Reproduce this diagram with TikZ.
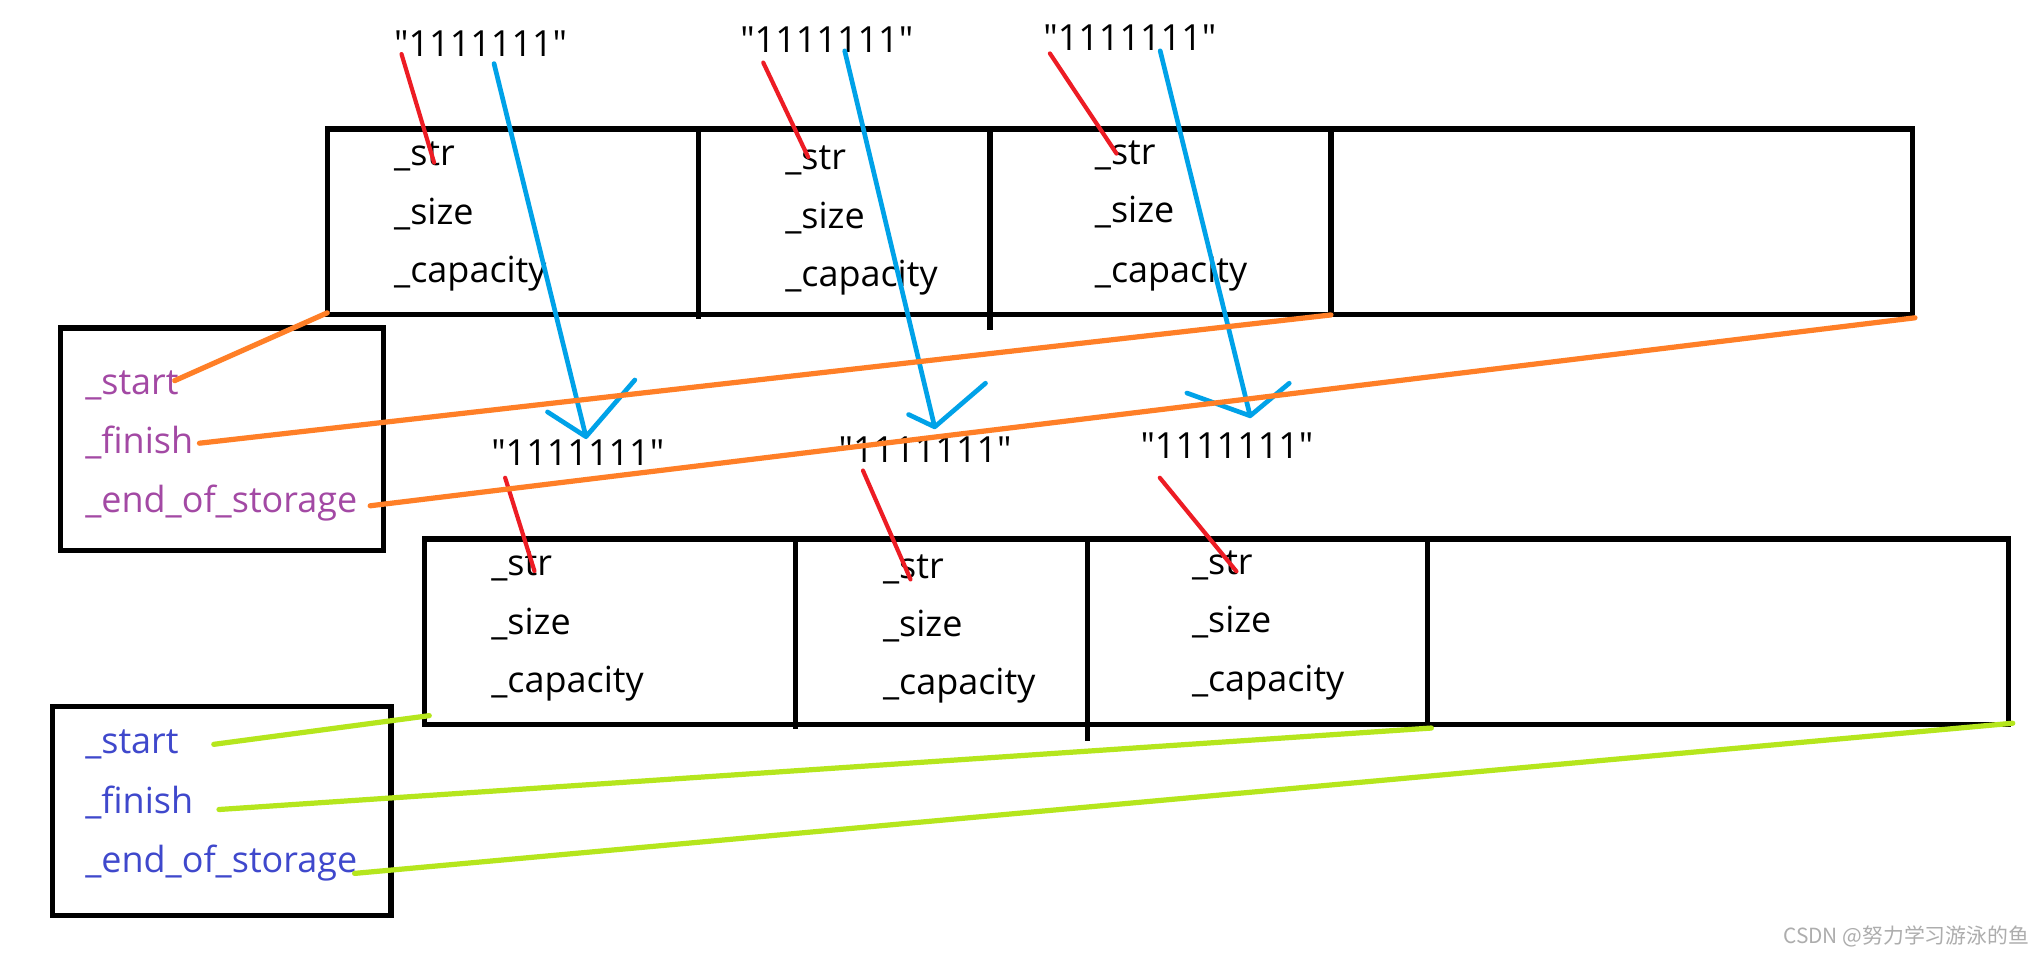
\documentclass[tikz,border=0pt]{standalone}
\usepackage{fontspec}
\setmainfont{Open Sans}
\newfontfamily\cjkfont{Noto Sans CJK SC}
\definecolor{pRed}{HTML}{ED1C24}
\definecolor{pOrange}{HTML}{FF7F27}
\definecolor{pLime}{HTML}{B5E61D}
\definecolor{pBlue}{HTML}{00A2E8}
\definecolor{pPurple}{HTML}{A349A4}
\definecolor{pIndigo}{HTML}{3F48CC}
\newcommand{\qstr}{\textquotedbl1111111\textquotedbl}
\tikzset{
  txt/.style={anchor=base west, inner sep=0pt, font=\fontsize{13.8}{16}\selectfont},
  frame/.style={draw=black, line width=2pt},
  redline/.style={draw=pRed, line width=1.6pt, line cap=round},
  blueline/.style={draw=pBlue, line width=1.8pt, line cap=round, line join=round},
  orangeline/.style={draw=pOrange, line width=2pt, line cap=round},
  limeline/.style={draw=pLime, line width=2pt, line cap=round},
}
\begin{document}
\begin{tikzpicture}[x=0.5pt, y=-0.5pt]
\useasboundingbox[fill=white] (0,0) rectangle (1568,732);

% ---------- top array ----------
\coordinate (TA-nw) at (251,99);
\coordinate (TA-se) at (1467,241);
\draw[frame] (TA-nw) rectangle (TA-se);
\draw[frame] (535.6,99) -- (535.6,245);
\draw[frame] (759.4,99) -- (759.4,253);
\draw[frame] (1021,99) -- (1021,241);

% ---------- bottom array ----------
\coordinate (BA-nw) at (325.5,413.5);
\coordinate (BA-se) at (1541,555.5);
\draw[frame] (BA-nw) rectangle (BA-se);
\draw[frame] (610,413.5) -- (610,559);
\draw[frame] (834,413.5) -- (834,568.5);
\draw[frame] (1094.8,413.5) -- (1094.8,555.5);

% ---------- left boxes ----------
\draw[frame] (46.5,251.7) rectangle (294,422.4);
\draw[frame] (40,542) rectangle (300,702);

% ---------- top cells text ----------
\node[txt] (t1s) at (302,127) {\_str};
\node[txt] (t1z) at (302,172) {\_size};
\node[txt] (t1c) at (302,217) {\_capacity};
\node[txt] (t2s) at (602,130) {\_str};
\node[txt] (t2z) at (602,175) {\_size};
\node[txt] (t2c) at (602,220) {\_capacity};
\node[txt] (t3s) at (839.5,126.5) {\_str};
\node[txt] (t3z) at (839.5,171) {\_size};
\node[txt] (t3c) at (839.5,216.5) {\_capacity};

% ---------- bottom cells text ----------
\node[txt] (b1s) at (376.5,441.5) {\_str};
\node[txt] (b1z) at (376.5,486.5) {\_size};
\node[txt] (b1c) at (376.5,531.5) {\_capacity};
\node[txt] (b2s) at (677,443.5) {\_str};
\node[txt] (b2z) at (677,488.5) {\_size};
\node[txt] (b2c) at (677,533) {\_capacity};
\node[txt] (b3s) at (914,441) {\_str};
\node[txt] (b3z) at (914,485.5) {\_size};
\node[txt] (b3c) at (914,530.5) {\_capacity};

% ---------- string labels ----------
\node[txt] (L1) at (302,43) {\qstr};
\node[txt] (L2) at (567.5,40) {\qstr};
\node[txt] (L3) at (800,38.5) {\qstr};
\node[txt] (M1) at (376.5,357) {\qstr};
\node[txt] (M2) at (643,354.5) {\qstr};
\node[txt] (M3) at (874.5,351.5) {\qstr};

% ---------- left box texts ----------
\node[txt, text=pPurple] (ps) at (65,303) {\_start};
\node[txt, text=pPurple] (pf) at (65,348) {\_finish};
\node[txt, text=pPurple] (pe) at (65,393) {\_end\_of\_storage};
\node[txt, text=pIndigo] (qs) at (65,578) {\_start};
\node[txt, text=pIndigo] (qf) at (65,624) {\_finish};
\node[txt, text=pIndigo] (qe) at (65,669) {\_end\_of\_storage};

% ---------- red pointers ----------
\coordinate (r1a) at (308,41.5);   \coordinate (r1b) at (333,124.7);
\coordinate (r2a) at (585.5,48);   \coordinate (r2b) at (620,120.6);
\coordinate (r3a) at (805.4,41);   \coordinate (r3b) at (856.5,117.8);
\coordinate (r4a) at (387.5,366.5); \coordinate (r4b) at (410,438);
\coordinate (r5a) at (662,361);    \coordinate (r5b) at (698.5,444.5);
\coordinate (r6a) at (889.7,366.5); \coordinate (r6b) at (948.5,438.3);
\draw[redline] (r1a) -- (r1b);
\draw[redline] (r2a) -- (r2b);
\draw[redline] (r3a) -- (r3b);
\draw[redline] (r4a) -- (r4b);
\draw[redline] (r5a) -- (r5b);
\draw[redline] (r6a) -- (r6b);

% ---------- blue arrows ----------
\coordinate (u1a) at (379,48.8);  \coordinate (u1t) at (449.5,335);
\coordinate (u1l) at (420,316);   \coordinate (u1r) at (487,291.5);
\coordinate (u2a) at (648,39);    \coordinate (u2t) at (717,327.5);
\coordinate (u2l) at (697,318);   \coordinate (u2r) at (756,294);
\coordinate (u3a) at (890,39);    \coordinate (u3t) at (959,319);
\coordinate (u3l) at (910.5,301.5); \coordinate (u3r) at (989,294);
\draw[blueline] (u1a) -- (u1t) (u1l) -- (u1t) -- (u1r);
\draw[blueline] (u2a) -- (u2t) (u2l) -- (u2t) -- (u2r);
\draw[blueline] (u3a) -- (u3t) (u3l) -- (u3t) -- (u3r);

% ---------- orange pointers ----------
\coordinate (o1a) at (134,292);  \coordinate (o1b) at (251,240);
\coordinate (o2a) at (153,340);  \coordinate (o2b) at (1021,241.6);
\coordinate (o3a) at (284,388);  \coordinate (o3b) at (1469,243.8);
\draw[orangeline] (o1a) -- (o1b);
\draw[orangeline] (o2a) -- (o2b);
\draw[orangeline] (o3a) -- (o3b);

% ---------- lime pointers ----------
\coordinate (g1a) at (164,571);  \coordinate (g1b) at (329.3,549);
\coordinate (g2a) at (168,621);  \coordinate (g2b) at (1098,558.5);
\coordinate (g3a) at (272,670);  \coordinate (g3b) at (1544,554.8);
\draw[limeline] (g1a) -- (g1b);
\draw[limeline] (g2a) -- (g2b);
\draw[limeline] (g3a) -- (g3b);

% ---------- watermark ----------
\node[anchor=east, inner sep=0pt, text=black!32, font=\cjkfont\fontsize{8}{9}\selectfont] (wm) at (1557,718) {CSDN @努力学习游泳的鱼};
\end{tikzpicture}
\end{document}
